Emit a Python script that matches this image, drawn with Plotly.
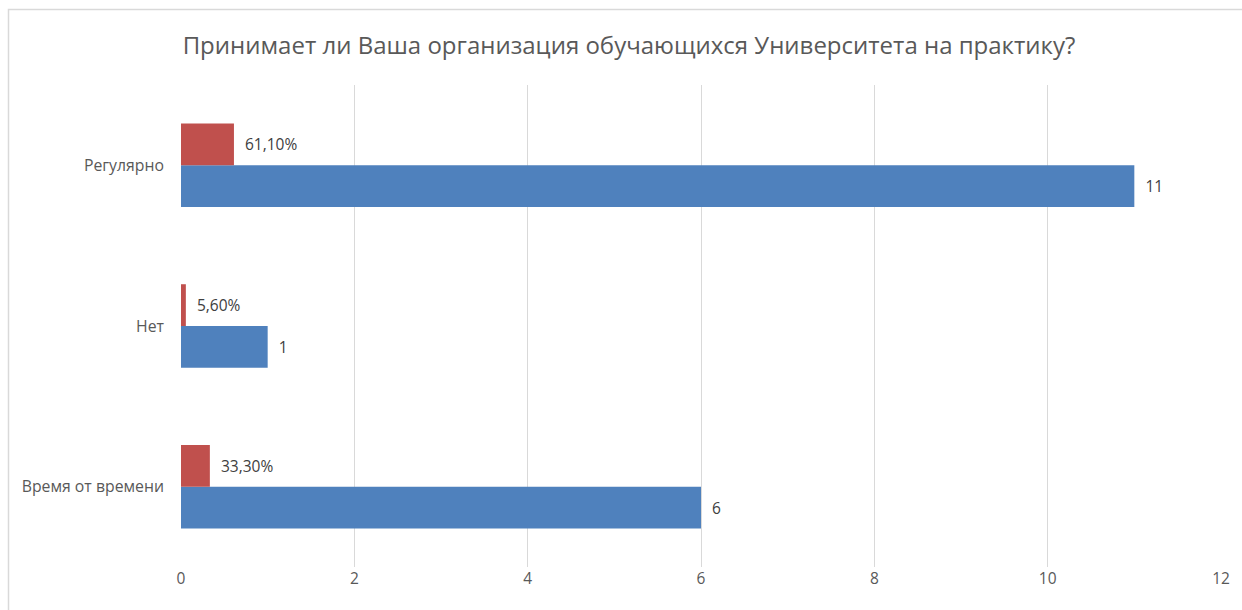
import plotly.graph_objects as go

categories = ["Время от времени", "Нет", "Регулярно"]
counts = [6, 1, 11]
shares = [0.333, 0.056, 0.611]
x_ticks = [0, 2, 4, 6, 8, 10, 12]
title_text = "Принимает ли Ваша организация обучающихся Университета на практику?"

BLUE = "#4F81BD"
RED = "#C0504D"
TXT = "#595959"
FONT = "Open Sans"
PAD = "\u00a0\u00a0"

fig = go.Figure()
fig.add_trace(go.Bar(
    y=categories, x=counts, orientation="h", marker=dict(color=BLUE, line=dict(width=0)),
    texttemplate=PAD + "%{x}", textposition="outside",
    textfont=dict(family=FONT, size=15.5, color="#404040"), cliponaxis=False,
    name="Количество", showlegend=False,
))
fig.add_trace(go.Bar(
    y=categories, x=shares, orientation="h", marker=dict(color=RED, line=dict(width=0)),
    texttemplate=PAD + "%{x:.2%}", textposition="outside",
    textfont=dict(family=FONT, size=15.5, color="#404040"), cliponaxis=False,
    name="Доля", showlegend=False,
))

fig.update_layout(
    width=1242, height=610,
    margin=dict(l=181, r=21, t=85, b=43),
    paper_bgcolor="white", plot_bgcolor="white",
    barmode="group", bargap=0.48, bargroupgap=0,
    separators=", ",
    title=dict(text=title_text, x=629 / 1242, xanchor="center", xref="container", y=1 - 46 / 610, yanchor="middle",
               font=dict(family=FONT, size=24, color=TXT)),
    font=dict(family=FONT, color=TXT),
    xaxis=dict(range=[0, 12], tickvals=x_ticks, showgrid=True, gridcolor="#D9D9D9", gridwidth=1,
               zeroline=False, showline=False, ticks="", tickfont=dict(size=15.5, color=TXT)),
    yaxis=dict(categoryorder="array", categoryarray=categories, showgrid=False, zeroline=False,
               showline=False, ticks="", ticklabelstandoff=16, tickfont=dict(size=15.8, color=TXT)),
    shapes=[dict(type="rect", xref="paper", yref="paper", x0=(8.5 - 181) / 1040, x1=2,
                 y0=-1, y1=(567 - 9.5) / 482, line=dict(color="#D9D9D9", width=1.5), layer="below")],
)

fig.write_html("out.html", config={"displayModeBar": False},
               post_script="document.body.style.margin='0';document.body.style.overflow='hidden';")
